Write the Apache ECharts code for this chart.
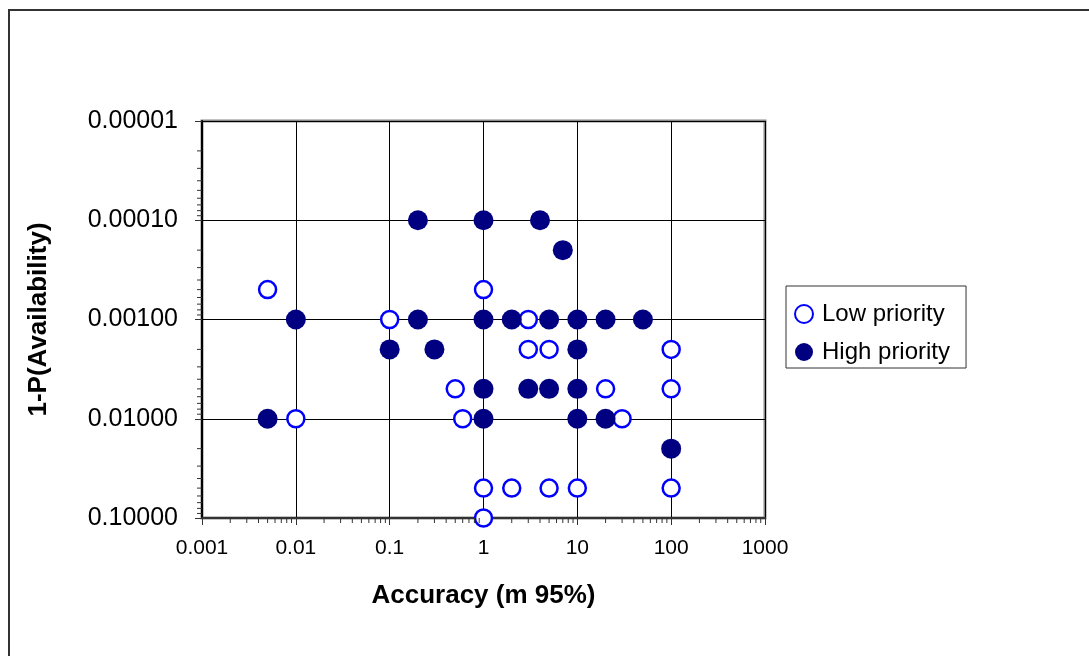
<!DOCTYPE html>
<html>
<head>
<meta charset="utf-8">
<script src="https://cdn.jsdelivr.net/npm/echarts@6/dist/echarts.min.js"></script>
<style>
  html, body { margin: 0; padding: 0; background: #fff; }
  #chart { width: 1089px; height: 656px; }
</style>
</head>
<body>
<div id="chart"></div>
<script>
// accuracy (m 95%) and 1-P(availability) for each requirement
const lowAccuracy = [0.005, 1, 0.1, 3, 3, 5, 100, 0.5, 20, 100, 0.01, 0.6, 30, 1, 2, 5, 10, 100, 1];
const lowUnavail = [0.0005, 0.0005, 0.001, 0.001, 0.002, 0.002, 0.002, 0.005, 0.005, 0.005, 0.01, 0.01, 0.01, 0.05, 0.05, 0.05, 0.05, 0.05, 0.1];

const highAccuracy = [0.2, 1, 4, 7, 0.01, 0.2, 1, 2, 5, 10, 20, 50, 0.1, 0.3, 10, 1, 3, 5, 10, 0.005, 1, 10, 20, 100];
const highUnavail = [0.0001, 0.0001, 0.0001, 0.0002, 0.001, 0.001, 0.001, 0.001, 0.001, 0.001, 0.001, 0.001, 0.002, 0.002, 0.002, 0.005, 0.005, 0.005, 0.005, 0.01, 0.01, 0.01, 0.01, 0.02];

const xDecades = [0.001, 0.01, 0.1, 1, 10, 100];
const yDecades = [0.00001, 0.0001, 0.001, 0.01];
const minorSteps = [2, 3, 4, 5, 6, 7, 8, 9];

const FONT = 'Arial, "Liberation Sans", sans-serif';

const zip = (a, b) => a.map((v, i) => [v, b[i]]);

const xMinor = [];
xDecades.forEach(d => minorSteps.forEach(m => xMinor.push([d * m, 0.1])));
const yMinor = [];
yDecades.forEach(d => minorSteps.forEach(m => yMinor.push([0.001, d * m])));

const chart = echarts.init(document.getElementById('chart'));
chart.setOption({
  backgroundColor: '#fff',
  animation: false,
  graphic: [{
    type: 'rect',
    shape: { x: 9, y: 10, width: 1200, height: 800 },
    style: { fill: 'none', stroke: '#333', lineWidth: 2 },
    z: -10
  }],
  grid: {
    left: 202, top: 121, right: 324, bottom: 138,
    show: true, borderColor: '#888', borderWidth: 3, backgroundColor: 'transparent'
  },
  legend: {
    orient: 'vertical',
    left: 786,
    top: 286,
    data: ['Low priority', 'High priority'],
    itemWidth: 18,
    itemHeight: 18,
    itemGap: 14,
    padding: [16, 16, 4, 8],
    borderColor: '#333',
    borderWidth: 1,
    borderRadius: 0,
    textStyle: { fontFamily: FONT, fontSize: 24, color: '#000', padding: [0, 0, 0, 4] }
  },
  xAxis: {
    type: 'log',
    logBase: 10,
    min: 0.001,
    max: 1000,
    name: 'Accuracy (m 95%)',
    nameLocation: 'middle',
    nameGap: 65,
    nameTextStyle: { fontFamily: FONT, fontSize: 26, fontWeight: 'bold', color: '#000' },
    axisLine: { show: true, lineStyle: { color: '#333', width: 2 } },
    axisTick: { show: true, length: 7, lineStyle: { color: '#333', width: 1 } },
    axisLabel: {
      fontFamily: FONT, fontSize: 21, color: '#000', margin: 20,
      formatter: v => String(+v.toPrecision(3))
    },
    splitLine: { show: true, lineStyle: { color: '#000', width: 1 } }
  },
  yAxis: {
    type: 'log',
    logBase: 10,
    inverse: true,
    min: 0.00001,
    max: 0.1,
    name: '1-P(Availability)',
    nameLocation: 'middle',
    nameRotate: 90,
    nameGap: 150,
    nameTextStyle: { fontFamily: FONT, fontSize: 26, fontWeight: 'bold', color: '#000' },
    axisLine: { show: true, lineStyle: { color: '#000', width: 2 } },
    axisTick: { show: true, length: 7, lineStyle: { color: '#333', width: 1 } },
    axisLabel: {
      fontFamily: FONT, fontSize: 25, color: '#000', margin: 24,
      formatter: v => v.toFixed(5)
    },
    splitLine: { show: true, lineStyle: { color: '#000', width: 1 } }
  },
  series: [
    {
      name: 'Low priority',
      type: 'scatter',
      data: zip(lowAccuracy, lowUnavail),
      symbol: 'circle',
      symbolSize: 17,
      itemStyle: { color: '#fff', borderColor: '#0000ff', borderWidth: 2.5, opacity: 1 },
      z: 3
    },
    {
      name: 'High priority',
      type: 'scatter',
      data: zip(highAccuracy, highUnavail),
      symbol: 'circle',
      symbolSize: 20,
      itemStyle: { color: '#000080', opacity: 1 },
      z: 4
    },
    {
      // minor log ticks on the x axis
      type: 'custom',
      silent: true,
      clip: false,
      data: xMinor,
      renderItem: (params, api) => {
        const p = api.coord([api.value(0), api.value(1)]);
        return { type: 'line', shape: { x1: p[0], y1: p[1], x2: p[0], y2: p[1] + 5 }, style: { stroke: '#333', lineWidth: 1 } };
      },
      z: 5
    },
    {
      // minor log ticks on the y axis
      type: 'custom',
      silent: true,
      clip: false,
      data: yMinor,
      renderItem: (params, api) => {
        const p = api.coord([api.value(0), api.value(1)]);
        return { type: 'line', shape: { x1: p[0] - 5, y1: p[1], x2: p[0], y2: p[1] }, style: { stroke: '#333', lineWidth: 1 } };
      },
      z: 5
    }
  ]
});
window.onresize = function () {
  chart.resize();
};
</script>
</body>
</html>
